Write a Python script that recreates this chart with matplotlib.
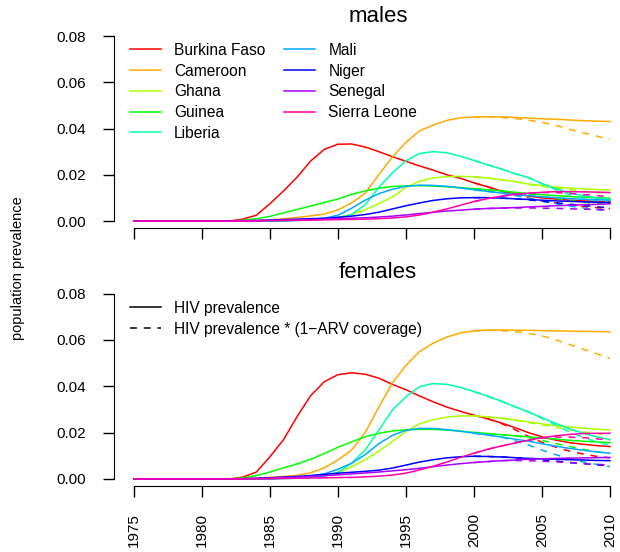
import numpy as np
import matplotlib
matplotlib.use('Agg')
import matplotlib.pyplot as plt

plt.rcParams['font.family'] = ['Liberation Sans', 'DejaVu Sans']

years = np.arange(1975, 2011)
countries = ['Burkina Faso', 'Cameroon', 'Ghana', 'Guinea', 'Liberia',
             'Mali', 'Niger', 'Senegal', 'Sierra Leone']
# rainbow(9) as in R
colors = ['#FF0000', '#FFAA00', '#AAFF00', '#00FF00', '#00FFAA',
          '#00AAFF', '#0000FF', '#AA00FF', '#FF00AA']

# HIV prevalence, males, 1975-2010
m_burkina = [0, 0, 0, 0, 0, 0, 0, 0, 0.0008, 0.0025, 0.0075, 0.013, 0.019, 0.026, 0.031, 0.0332, 0.0333, 0.032,
             0.030, 0.0278, 0.0258, 0.0238, 0.022, 0.020, 0.0185, 0.0165, 0.0148, 0.013, 0.0118, 0.0108, 0.0100,
             0.0095, 0.0090, 0.0087, 0.0085, 0.0083]
m_cameroon = [0, 0, 0, 0, 0, 0, 0, 0, 0, 0.0002, 0.0005, 0.001, 0.0015, 0.0022, 0.003, 0.0048, 0.0078, 0.012,
              0.020, 0.0277, 0.034, 0.039, 0.0415, 0.0435, 0.0446, 0.045, 0.0451, 0.045, 0.0448, 0.0445, 0.0442,
              0.044, 0.0437, 0.0434, 0.0432, 0.043]
m_ghana = [0, 0, 0, 0, 0, 0, 0, 0, 0, 0, 0, 0.0002, 0.0004, 0.0007, 0.001, 0.0015, 0.0028, 0.0048, 0.0075,
           0.0104, 0.0145, 0.0172, 0.0186, 0.0192, 0.0193, 0.0191, 0.0186, 0.0178, 0.0171, 0.0160, 0.0153, 0.0147,
           0.0143, 0.0139, 0.0136, 0.0134]
m_guinea = [0, 0, 0, 0, 0, 0, 0, 0, 0.0003, 0.001, 0.002, 0.0035, 0.005, 0.0065, 0.008, 0.0095, 0.0115, 0.013,
            0.0142, 0.0149, 0.0152, 0.0153, 0.0151, 0.0148, 0.0144, 0.014, 0.0135, 0.013, 0.0124, 0.0119, 0.0114,
            0.011, 0.0106, 0.0103, 0.0101, 0.0099]
m_liberia = [0, 0, 0, 0, 0, 0, 0, 0, 0, 0, 0, 0.0001, 0.0002, 0.0004, 0.0008, 0.0015, 0.0028, 0.007, 0.0145,
             0.0208, 0.026, 0.0292, 0.0300, 0.0295, 0.0280, 0.0262, 0.0243, 0.0225, 0.0205, 0.0188, 0.0162, 0.0140,
             0.0122, 0.0110, 0.0100, 0.0093]
m_mali = [0, 0, 0, 0, 0, 0, 0, 0, 0, 0, 0, 0.0001, 0.0003, 0.0006, 0.0012, 0.0025, 0.0055, 0.009, 0.0118, 0.0137,
          0.015, 0.0155, 0.0154, 0.015, 0.0143, 0.0135, 0.0128, 0.0121, 0.0115, 0.011, 0.0105, 0.0101, 0.0097,
          0.0094, 0.0092, 0.009]
m_niger = [0, 0, 0, 0, 0, 0, 0, 0, 0.0001, 0.0002, 0.0004, 0.0006, 0.0008, 0.001, 0.0012, 0.0016, 0.0021, 0.0028,
           0.0038, 0.0052, 0.0066, 0.0078, 0.0089, 0.0096, 0.0100, 0.0101, 0.0101, 0.0099, 0.0096, 0.0093, 0.0090,
           0.0087, 0.0085, 0.0083, 0.0081, 0.0079]
m_senegal = [0, 0, 0, 0, 0, 0, 0, 0, 0.0001, 0.0002, 0.0003, 0.0004, 0.0005, 0.0006, 0.0008, 0.001, 0.0012,
             0.0014, 0.0017, 0.0021, 0.0026, 0.0032, 0.0038, 0.0043, 0.0047, 0.0051, 0.0054, 0.0056, 0.0058,
             0.0061, 0.0063, 0.0066, 0.0068, 0.0070, 0.0072, 0.0074]
m_sierra = [0, 0, 0, 0, 0, 0, 0, 0, 0, 0, 0.0001, 0.0002, 0.0003, 0.0004, 0.0005, 0.0006, 0.0007, 0.0008, 0.001,
            0.0013, 0.0018, 0.0026, 0.0038, 0.0052, 0.0068, 0.0084, 0.0097, 0.0107, 0.0115, 0.0120, 0.0124,
            0.0127, 0.0127, 0.0126, 0.0125, 0.0123]

# HIV prevalence, females, 1975-2010
f_burkina = [0, 0, 0, 0, 0, 0, 0, 0, 0.0008, 0.003, 0.0096, 0.017, 0.027, 0.036, 0.042, 0.0450, 0.0458, 0.0452,
             0.0435, 0.0408, 0.0385, 0.0358, 0.0333, 0.031, 0.0292, 0.0275, 0.026, 0.0242, 0.0222, 0.0200, 0.0182,
             0.0168, 0.0157, 0.0150, 0.0144, 0.0140]
f_cameroon = [0, 0, 0, 0, 0, 0, 0, 0, 0.0002, 0.0004, 0.0007, 0.0011, 0.0016, 0.0027, 0.0048, 0.0082, 0.0125,
              0.020, 0.031, 0.0414, 0.049, 0.055, 0.0586, 0.0612, 0.0630, 0.0639, 0.0642, 0.0643, 0.0642, 0.0641,
              0.0640, 0.0639, 0.0638, 0.0637, 0.0636, 0.0635]
f_ghana = [0, 0, 0, 0, 0, 0, 0, 0, 0, 0, 0.0001, 0.0003, 0.0006, 0.001, 0.0015, 0.0028, 0.0052, 0.0083, 0.0120,
           0.0161, 0.0205, 0.0238, 0.0256, 0.0267, 0.0272, 0.0272, 0.0268, 0.0262, 0.0255, 0.0246, 0.0238, 0.0230,
           0.0224, 0.0219, 0.0215, 0.0211]
f_guinea = [0, 0, 0, 0, 0, 0, 0, 0, 0.0004, 0.0015, 0.003, 0.0048, 0.0065, 0.0085, 0.011, 0.0137, 0.016, 0.0182,
            0.0197, 0.0207, 0.0212, 0.0214, 0.0214, 0.0211, 0.0206, 0.0201, 0.0196, 0.0191, 0.0186, 0.0182,
            0.0177, 0.0172, 0.0167, 0.0163, 0.016, 0.0157]
f_liberia = [0, 0, 0, 0, 0, 0, 0, 0, 0, 0, 0, 0.0002, 0.0004, 0.0008, 0.0013, 0.0028, 0.0068, 0.0125, 0.021,
             0.0297, 0.0355, 0.0398, 0.0412, 0.0408, 0.0395, 0.0377, 0.0357, 0.0336, 0.0312, 0.0289, 0.0264, 0.0240,
             0.0217, 0.0198, 0.0182, 0.0170]
f_mali = [0, 0, 0, 0, 0, 0, 0, 0, 0, 0, 0, 0.0003, 0.0006, 0.0012, 0.0022, 0.0042, 0.0068, 0.0105, 0.0152, 0.0188,
          0.0210, 0.0218, 0.0218, 0.0213, 0.0206, 0.0198, 0.0190, 0.0181, 0.0172, 0.0163, 0.0152, 0.0142, 0.0132,
          0.0124, 0.0117, 0.0111]
f_niger = [0, 0, 0, 0, 0, 0, 0, 0, 0.0001, 0.0003, 0.0005, 0.0008, 0.0011, 0.0015, 0.0020, 0.0025, 0.0029, 0.0033,
           0.0038, 0.0047, 0.006, 0.0073, 0.0083, 0.0091, 0.0096, 0.0098, 0.0097, 0.0095, 0.0092, 0.0089, 0.0087,
           0.0085, 0.0083, 0.0082, 0.0080, 0.0079]
f_senegal = [0, 0, 0, 0, 0, 0, 0, 0, 0.0001, 0.0002, 0.0004, 0.0006, 0.0008, 0.0011, 0.0014, 0.0018, 0.0022,
             0.0026, 0.003, 0.0035, 0.004, 0.0046, 0.0053, 0.006, 0.0066, 0.0071, 0.0075, 0.0079, 0.0082, 0.0085,
             0.0087, 0.0089, 0.0090, 0.0091, 0.0092, 0.0093]
f_sierra = [0, 0, 0, 0, 0, 0, 0, 0, 0, 0, 0.0001, 0.0002, 0.0003, 0.0004, 0.0005, 0.0006, 0.0007, 0.0009, 0.0012,
            0.0017, 0.0025, 0.0039, 0.0055, 0.0073, 0.0093, 0.0111, 0.0128, 0.0142, 0.0155, 0.0167, 0.0178,
            0.0186, 0.0192, 0.0196, 0.0197, 0.0197]

# ARV coverage 2000-2010 (same for both sexes)
arv_years = np.arange(2000, 2011)
arv_burkina = [0, 0, 0.01, 0.04, 0.08, 0.13, 0.18, 0.23, 0.28, 0.32, 0.35]
arv_cameroon = [0, 0, 0.005, 0.01, 0.02, 0.035, 0.06, 0.09, 0.12, 0.15, 0.18]
arv_ghana = [0, 0, 0, 0.005, 0.01, 0.02, 0.03, 0.05, 0.07, 0.09, 0.11]
arv_guinea = [0, 0, 0, 0, 0.02, 0.06, 0.11, 0.16, 0.21, 0.26, 0.30]
arv_liberia = [0, 0, 0, 0, 0, 0.01, 0.03, 0.06, 0.09, 0.12, 0.15]
arv_mali = [0, 0, 0, 0.04, 0.10, 0.18, 0.26, 0.33, 0.40, 0.46, 0.52]
arv_niger = [0, 0, 0, 0, 0.02, 0.05, 0.09, 0.14, 0.19, 0.24, 0.28]
arv_senegal = [0, 0, 0, 0.03, 0.07, 0.12, 0.17, 0.22, 0.27, 0.31, 0.35]
arv_sierra = [0, 0, 0, 0, 0, 0.01, 0.03, 0.06, 0.09, 0.12, 0.15]

males = [m_burkina, m_cameroon, m_ghana, m_guinea, m_liberia, m_mali, m_niger, m_senegal, m_sierra]
females = [f_burkina, f_cameroon, f_ghana, f_guinea, f_liberia, f_mali, f_niger, f_senegal, f_sierra]
arv = [arv_burkina, arv_cameroon, arv_ghana, arv_guinea, arv_liberia, arv_mali, arv_niger, arv_senegal, arv_sierra]

W, H = 620, 552
fig = plt.figure(figsize=(W / 100, H / 100), dpi=100)


def px_axes(left, top, right, bottom):
    return fig.add_axes([left / W, 1 - bottom / H, (right - left) / W, (bottom - top) / H])


ax_m = px_axes(114, 28.6, 620, 228.4)
ax_f = px_axes(114, 286.1, 620, 486.4)

lw = 1.1
for ax, data in [(ax_m, males), (ax_f, females)]:
    for prev, cov, col, name in zip(data, arv, colors, countries):
        prev = np.array(prev)
        ax.plot(years, prev, color=col, lw=lw, label=name)
        on_arv = prev[years >= 2000] * (1 - np.array(cov))
        ax.plot(arv_years, on_arv, color=col, lw=lw, dashes=(4.5, 4.5))

    ax.set_xlim(1973.53, 2010.74)
    ax.set_ylim(-0.0032, 0.0832)
    ax.set_yticks([0, 0.02, 0.04, 0.06, 0.08])
    ax.set_yticklabels(['0.00', '0.02', '0.04', '0.06', '0.08'])
    ax.set_xticks(np.arange(1975, 2011, 5))
    for s in ['top', 'right']:
        ax.spines[s].set_visible(False)
    ax.spines['left'].set_bounds(0, 0.08)
    ax.spines['bottom'].set_bounds(1975, 2010)
    ax.tick_params(length=8, width=1, labelsize=11, pad=12, colors='black')

ax_m.tick_params(axis='x', labelbottom=False)
ax_f.tick_params(axis='x', labelrotation=90, pad=11)

ax_m.legend(ncol=2, frameon=False, fontsize=11.2, loc='upper left',
            bbox_to_anchor=(122 / W, 1 - 35 / H), bbox_transform=fig.transFigure,
            borderpad=0, handlelength=2.0, handletextpad=0.85, columnspacing=1.2, labelspacing=0.37)

h1, = ax_f.plot([], [], color='black', lw=lw)
h2, = ax_f.plot([], [], color='black', lw=lw, dashes=(4.5, 4.5))
ax_f.legend([h1, h2], ['HIV prevalence', 'HIV prevalence * (1\u2212ARV coverage)'],
            frameon=False, fontsize=11.2, loc='upper left',
            bbox_to_anchor=(122 / W, 1 - 293 / H), bbox_transform=fig.transFigure,
            borderpad=0, handlelength=2.0, handletextpad=0.85, labelspacing=0.37)

fig.text(378 / W, 1 - 16 / H, 'males', ha='center', va='center', fontsize=16)
fig.text(378 / W, 1 - 273 / H, 'females', ha='center', va='center', fontsize=16)
fig.text(18 / W, 1 - 268 / H, 'population prevalence', rotation=90, ha='center', va='center', fontsize=10.5)

fig.savefig('out.png', dpi=100)
